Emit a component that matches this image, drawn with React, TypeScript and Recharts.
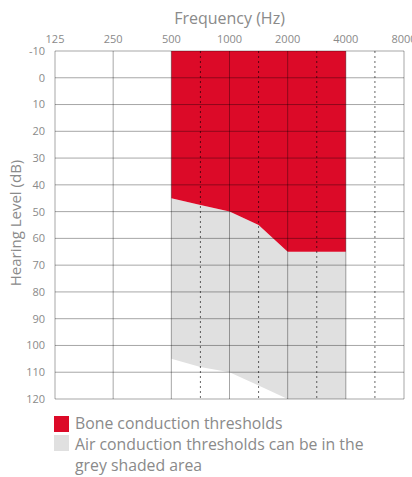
import { ComposedChart, Area, XAxis, YAxis, ReferenceLine } from "recharts";

// Octave positions: 125 Hz = 0 ... 8000 Hz = 6
const freqTicks = [0, 1, 2, 3, 4, 5, 6];
const freqLabels = ["125", "250", "500", "1000", "2000", "4000", "8000"];
const halfOctaves = [2.5, 3.5, 4.5, 5.5];
const dbTicks = [-10, 0, 10, 20, 30, 40, 50, 60, 70, 80, 90, 100, 110, 120];

// shaded regions (500 Hz .. 4000 Hz)
const octaveIdx = [2, 2.5, 3, 3.5, 4, 4.5, 5];
const boneThreshold = [45, 47.5, 50, 55, 65, 65, 65];
const airLimit = [105, 108, 110, 115, 120, 120, 120];

const RED = "#dc0a28";
const GREY = "#e0e0e0";
const TEXT = "#8a8a8a";
const FONT = "'Open Sans', sans-serif";

const data = octaveIdx.map((x, i) => ({
  x,
  bone: [-10, boneThreshold[i]],
  air: [boneThreshold[i], airLimit[i]],
}));

const gridProps = { stroke: "#000", strokeOpacity: 0.35, strokeWidth: 1 };

export default function App() {
  return (
    <div
      style={{
        position: "absolute",
        left: 0,
        top: 0,
        width: 412,
        height: 477,
        background: "#fff",
        fontFamily: FONT,
        color: TEXT,
      }}
    >
      <div
        style={{
          position: "absolute",
          left: 55,
          width: 349,
          top: 6,
          textAlign: "center",
          fontSize: 16,
          lineHeight: "24px",
        }}
      >
        Frequency (Hz)
      </div>
      <div
        style={{
          position: "absolute",
          left: 15,
          top: 223,
          width: 200,
          marginLeft: -100,
          marginTop: -11,
          textAlign: "center",
          fontSize: 15,
          lineHeight: "22px",
          transform: "rotate(-90deg)",
        }}
      >
        Hearing Level (dB)
      </div>

      <div style={{ position: "absolute", left: 0, top: 0 }}>
        <ComposedChart
          width={412}
          height={405}
          data={data}
          margin={{ top: 21, right: 8, bottom: 6, left: 0 }}
        >
          <XAxis
            dataKey="x"
            type="number"
            orientation="top"
            domain={[0, 6]}
            ticks={freqTicks}
            tickFormatter={(v) => freqLabels[v]}
            axisLine={false}
            tickLine={false}
            tickMargin={2}
            height={30}
            interval={0}
            tick={{ fontSize: 11, fill: TEXT, fontFamily: FONT }}
          />
          <YAxis
            type="number"
            domain={[-10, 120]}
            reversed
            ticks={dbTicks}
            width={55}
            axisLine={false}
            tickLine={false}
            tickMargin={4}
            interval={0}
            tick={{ fontSize: 11, fill: TEXT, fontFamily: FONT }}
          />
          <Area
            dataKey="air"
            type="linear"
            fill={GREY}
            fillOpacity={1}
            stroke="none"
            isAnimationActive={false}
          />
          <Area
            dataKey="bone"
            type="linear"
            fill={RED}
            fillOpacity={1}
            stroke="none"
            isAnimationActive={false}
          />
          {dbTicks.map((v) => (
            <ReferenceLine key={"h" + v} y={v} {...gridProps} />
          ))}
          {freqTicks.map((v) => (
            <ReferenceLine key={"v" + v} x={v} {...gridProps} />
          ))}
          {halfOctaves.map((v) => (
            <ReferenceLine
              key={"d" + v}
              x={v}
              {...gridProps}
              strokeOpacity={0.6}
              strokeDasharray="2 3"
            />
          ))}
        </ComposedChart>
      </div>

      <div
        style={{
          position: "absolute",
          left: 54,
          top: 413,
          fontSize: 15.8,
          lineHeight: "21px",
        }}
      >
        <div style={{ display: "flex", alignItems: "flex-start" }}>
          <span
            style={{
              display: "inline-block",
              width: 15,
              height: 16,
              background: RED,
              marginTop: 3,
              marginRight: 6,
              flexShrink: 0,
            }}
          />
          <span style={{ whiteSpace: "nowrap" }}>Bone conduction thresholds</span>
        </div>
        <div style={{ display: "flex", alignItems: "flex-start" }}>
          <span
            style={{
              display: "inline-block",
              width: 15,
              height: 16,
              background: GREY,
              marginTop: 1,
              marginRight: 6,
              flexShrink: 0,
            }}
          />
          <span style={{ width: 300 }}>
            Air conduction thresholds can be in the
            <br />
            grey shaded area
          </span>
        </div>
      </div>
    </div>
  );
}
